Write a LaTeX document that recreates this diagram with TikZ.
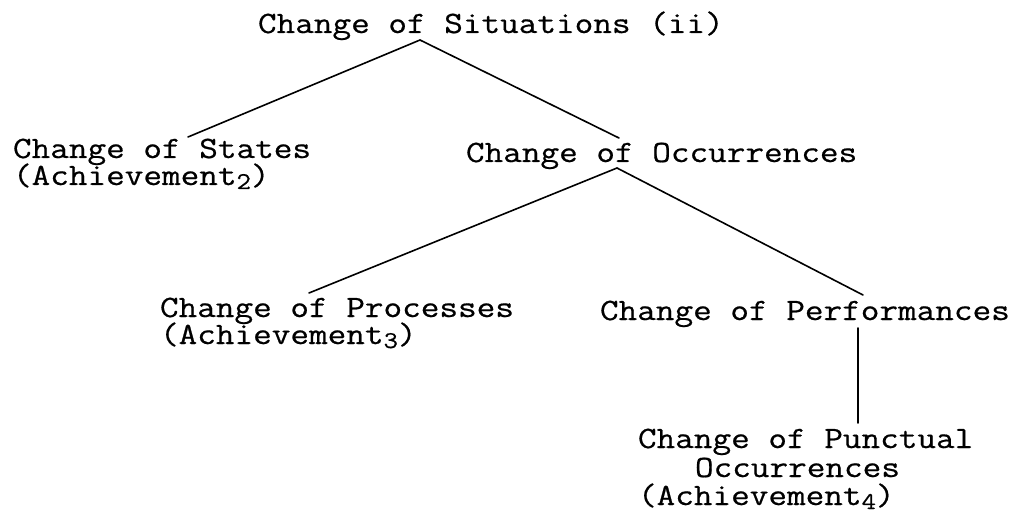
\documentclass[tikz,border=0pt]{standalone}
\usepackage{fontspec}
\newfontfamily\twfont{lmmono12-regular.otf}[FakeStretch=1.167, FakeBold=0.6]
\newcommand{\subd}[1]{\raisebox{-4pt}{\fontsize{24}{24}\selectfont #1}}
\tikzset{
  lbl/.style={anchor=base west, inner sep=0pt, outer sep=0pt,
    font=\twfont\fontsize{31}{28}\selectfont},
  edge/.style={line width=1.6pt, line cap=round}
}
\begin{document}
\begin{tikzpicture}[x=1pt,y=-1pt]
\useasboundingbox (0,0) rectangle (1021,516);
% text nodes
\node[lbl] (root)   at (258,33)  {Change of Situations (ii)};
\node[lbl] (states) at (13,158)  {Change of States};
\node[lbl] (statesb) at (13,185) {(Achievement\subd{2})};
\node[lbl] (occ)    at (466,162) {Change of Occurrences};
\node[lbl] (proc)   at (160,317) {Change of Processes};
\node[lbl] (procb)  at (160,344) {(Achievement\subd{3})};
\node[lbl] (perf)   at (600,320) {Change of Performances};
\node[lbl] (punct)  at (638,448) {Change of Punctual};
\node[lbl] (punctb) at (695,477) {Occurrences};
\node[lbl] (punctc) at (638,505) {(Achievement\subd{4})};
% attachment points
\coordinate (rootapex)  at (420,40);
\coordinate (statestop) at (188,137);
\coordinate (occtop)    at (619,138);
\coordinate (occapex)   at (617,168);
\coordinate (proctop)   at (309,293);
\coordinate (perftop)   at (863,295);
\coordinate (perfbot)   at (858,328);
\coordinate (puncttop)  at (858,423);
% connectors
\draw[edge] (statestop) -- (rootapex) -- (occtop);
\draw[edge] (proctop) -- (occapex) -- (perftop);
\draw[edge] (perfbot) -- (puncttop);
\end{tikzpicture}
\end{document}
